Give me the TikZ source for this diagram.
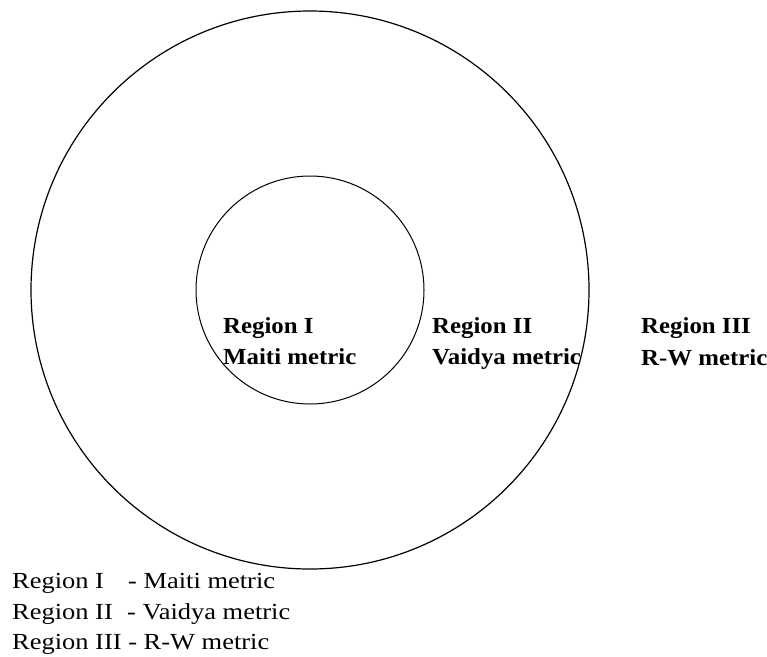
\documentclass[tikz,border=0pt]{standalone}
\usepackage{fontspec}
\setmainfont{Liberation Serif}[FakeStretch=1.15, BoldFeatures={FakeStretch=1.08}]
\newcommand{\regfont}{\fontsize{23}{31}\selectfont}

\begin{document}
\begin{tikzpicture}[x=1pt, y=-1pt,
    lbl/.style={anchor=base west, inner sep=0pt, font=\regfont},
    reg/.style={lbl, font=\regfont\bfseries}]
    \useasboundingbox (0,0) rectangle (767,656);

    % the two boundaries
    \coordinate (o) at (310,290);
    \draw[line width=1.2pt] (o) circle (279);
    \draw[line width=1pt] (o) circle (114);

    % labels inside the regions
    \node[reg] (r1) at (223,333) {Region I};
    \node[reg] (r1m) at (223,364) {Maiti metric};
    \node[reg] (r2) at (432,333) {Region II};
    \node[reg] (r2m) at (432,364) {Vaidya metric};
    \node[reg] (r3) at (641,333) {Region III};
    \node[reg] (r3m) at (641,365) {R-W metric};

    % key
    \node[lbl] (k1) at (12,588) {\makebox[116pt][l]{Region I}- Maiti metric};
    \node[lbl] (k2) at (12,619) {\makebox[115pt][l]{Region II}- Vaidya metric};
    \node[lbl] (k3) at (12,649) {Region III - R-W metric};
\end{tikzpicture}
\end{document}
